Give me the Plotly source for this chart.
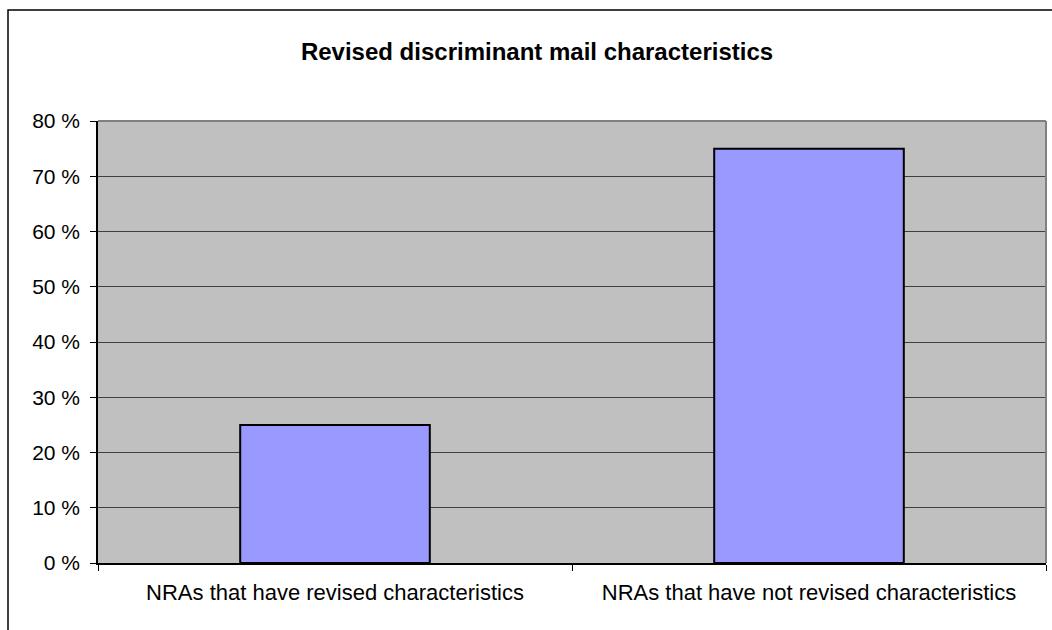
import plotly.graph_objects as go

# Share of NRAs by whether they revised their discriminant mail characteristics
categories = [
    "NRAs that have revised characteristics",
    "NRAs that have not revised characteristics",
]
values = [25, 75]
y_ticks = [0, 10, 20, 30, 40, 50, 60, 70, 80]

FONT = "Arial, 'Liberation Sans', sans-serif"

fig = go.Figure(
    go.Bar(
        x=categories,
        y=values,
        width=0.4,
        marker=dict(color="#9999FF", line=dict(color="black", width=2)),
        hoverinfo="x+y",
    )
)

# plot area in pixels: left 98, right 1046, top 121, bottom 563
L, R, T, B = 98, 1046, 121, 563
W, H = 1052, 630
pw, ph = R - L, B - T


def px_x(x):
    return (x - L) / pw


def px_y(y):
    return (B - y) / ph


fig.update_layout(
    width=W,
    height=H,
    margin=dict(l=L, r=W - R, t=T, b=H - B, pad=0),
    paper_bgcolor="white",
    plot_bgcolor="#C0C0C0",
    font=dict(family=FONT, size=21, color="black"),
    showlegend=False,
    title=dict(
        text="<b>Revised discriminant mail characteristics</b>",
        xref="container",
        x=537 / W,
        xanchor="center",
        y=1 - 52 / H,
        yanchor="middle",
        font=dict(family=FONT, size=24, color="black"),
    ),
    bargap=0.6,
    shapes=[
        # outer chart frame
        dict(
            type="rect",
            xref="paper",
            yref="paper",
            x0=px_x(8),
            x1=px_x(1060),
            y0=px_y(640),
            y1=px_y(10),
            line=dict(color="black", width=1.5),
            fillcolor="rgba(0,0,0,0)",
            layer="above",
        ),
        # plot area border (top and right)
        dict(
            type="line",
            xref="paper",
            yref="paper",
            x0=0,
            x1=1,
            y0=1,
            y1=1,
            line=dict(color="#808080", width=2),
            layer="above",
        ),
        dict(
            type="line",
            xref="paper",
            yref="paper",
            x0=1,
            x1=1,
            y0=0,
            y1=1,
            line=dict(color="#808080", width=2),
            layer="above",
        ),
    ],
)

fig.update_yaxes(
    range=[0, 80],
    tickvals=y_ticks,
    ticktext=[f"{v} %" for v in y_ticks],
    showgrid=True,
    gridcolor="#404040",
    gridwidth=1,
    zeroline=False,
    showline=True,
    linecolor="black",
    linewidth=1.5,
    ticks="outside",
    ticklen=6,
    tickcolor="black",
    ticklabelstandoff=6,
    tickfont=dict(family=FONT, size=21, color="black"),
    fixedrange=True,
)

fig.update_xaxes(
    tickson="boundaries",
    ticks="outside",
    ticklen=6,
    tickcolor="black",
    showline=True,
    linecolor="black",
    linewidth=1.5,
    showgrid=False,
    ticklabelstandoff=9,
    tickfont=dict(family=FONT, size=22, color="black"),
    fixedrange=True,
)

fig.write_html("out.html")
